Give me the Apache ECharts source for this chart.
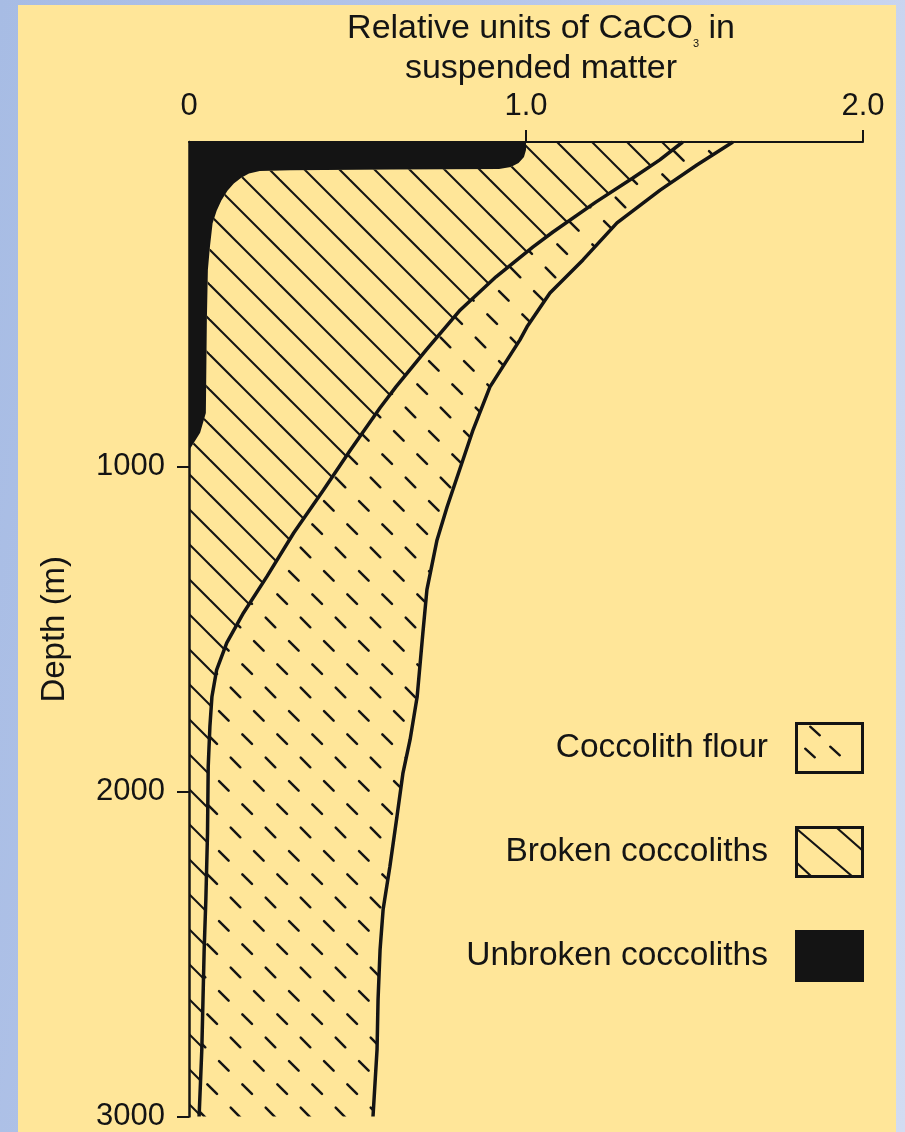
<!DOCTYPE html>
<html><head><meta charset="utf-8">
<script src="https://cdn.jsdelivr.net/npm/echarts@6/dist/echarts.min.js"></script>
<style>
html,body{margin:0;padding:0;width:905px;height:1132px;overflow:hidden;
background:linear-gradient(100deg,#a7bce4 0%,#b6c6ea 45%,#d2dcf2 100%);}
#panel{position:absolute;left:18px;top:5px;width:878px;height:1127px;background:#ffe699;}
#chart{position:absolute;left:0;top:0;width:905px;height:1132px;}
</style></head><body>
<div id="panel"></div><div id="chart"></div>
<script>
// ---- data (relative units of CaCO3 vs depth in m) ----
const xTickValues = [0, 1, 2];
const depthTicks = [1000, 2000, 3000];

// right edge of the unbroken coccoliths (black) region
const unbrokenDepth = [0, 25, 46, 65, 77, 83, 85, 87, 89, 97, 110, 128, 150, 180, 212, 250, 323, 394, 548, 834, 895, 950];
const unbrokenValue = [1.0, 1.0, 0.994, 0.978, 0.955, 0.92, 0.6, 0.3, 0.21, 0.178, 0.155, 0.133, 0.114, 0.096, 0.082, 0.070, 0.062, 0.056, 0.053, 0.050, 0.033, 0];

// unbroken + broken coccoliths (cumulative)
const brokenDepth = [0, 55, 111, 185, 277, 323, 415, 517, 640, 754, 818, 948, 1071, 1203, 1338, 1449, 1542, 1625, 1708, 1800, 1923, 2126, 2332, 2486, 2794, 3000];
const brokenValue = [1.465, 1.397, 1.317, 1.207, 1.080, 1.021, 0.911, 0.805, 0.704, 0.614, 0.567, 0.479, 0.399, 0.311, 0.231, 0.162, 0.112, 0.082, 0.068, 0.062, 0.057, 0.055, 0.050, 0.045, 0.038, 0.030];

// total (unbroken + broken + coccolith flour)
const totalDepth = [0, 71, 148, 249, 363, 465, 569, 609, 754, 886, 978, 1123, 1225, 1378, 1511, 1708, 1840, 1942, 2077, 2231, 2363, 2486, 2640, 2794, 3000];
const totalValue = [1.614, 1.507, 1.398, 1.270, 1.169, 1.071, 1.003, 0.982, 0.893, 0.843, 0.813, 0.766, 0.736, 0.706, 0.694, 0.677, 0.656, 0.635, 0.617, 0.596, 0.576, 0.567, 0.561, 0.558, 0.546];

const legendNames = ['Coccolith flour', 'Broken coccoliths', 'Unbroken coccoliths'];

// ---- build point lists ----
const zip = (vals, deps) => vals.map((v, i) => [v, deps[i]]);
const unbrokenPts = zip(unbrokenValue, unbrokenDepth);
const brokenPts = zip(brokenValue, brokenDepth);
const totalPts = zip(totalValue, totalDepth);
const maxUnbrokenDepth = unbrokenDepth[unbrokenDepth.length - 1];
const maxDepth = depthTicks[depthTicks.length - 1];

const unbrokenPoly = [[0, 0]].concat(unbrokenPts);
const brokenPoly = brokenPts.concat([[0, maxDepth], [0, maxUnbrokenDepth]], unbrokenPts.slice().reverse());
const flourPoly = totalPts.concat(brokenPts.slice().reverse());

// ---- patterns ----
const INK = '#141414';
function hatchCanvas() {
  const c = document.createElement('canvas'); c.width = 70; c.height = 70;
  const g = c.getContext('2d');
  g.strokeStyle = INK; g.lineWidth = 2;
  for (let k = -3; k <= 3; k++) {
    const cc = 30 + 35 * k;
    g.beginPath(); g.moveTo(cc - 10, -10); g.lineTo(cc + 80, 80); g.stroke();
  }
  return c;
}
function flourCanvas() {
  const c = document.createElement('canvas'); c.width = 70; c.height = 70;
  const g = c.getContext('2d');
  g.strokeStyle = INK; g.lineWidth = 2.5; g.lineCap = 'round';
  const step = 70 / 3, h = 4.8;
  for (let i = 0; i < 3; i++) for (let j = 0; j < 2; j++) {
    const cx = (48.83 + step * i + 35 * j) % 70, cy = 15.83 + step * i;
    for (const ox of [-70, 0, 70]) for (const oy of [-70, 0, 70]) {
      g.beginPath(); g.moveTo(cx + ox - h, cy + oy - h); g.lineTo(cx + ox + h, cy + oy + h); g.stroke();
    }
  }
  return c;
}
function swatch(kind) {
  const c = document.createElement('canvas'); c.width = 69; c.height = 52;
  const g = c.getContext('2d');
  g.strokeStyle = INK; g.lineCap = 'round';
  if (kind === 2) { g.fillStyle = INK; g.fillRect(0, 0, 69, 52); }
  else if (kind === 1) {
    g.lineWidth = 2.2;
    [[3, 4, 58, 51], [42, 2, 67, 24], [2, 37, 17, 51]].forEach(s => { g.beginPath(); g.moveTo(s[0], s[1]); g.lineTo(s[2], s[3]); g.stroke(); });
  } else {
    g.lineWidth = 2.4;
    [[20, 9], [15, 31], [40, 29]].forEach(p => { g.beginPath(); g.moveTo(p[0] - 4.8, p[1] - 4.3); g.lineTo(p[0] + 4.8, p[1] + 4.3); g.stroke(); });
  }
  g.lineWidth = 3; g.strokeRect(1.5, 1.5, 66, 49);
  return 'image://' + c.toDataURL();
}
const hatchFill = { image: hatchCanvas(), repeat: 'repeat' };
const flourFill = { image: flourCanvas(), repeat: 'repeat' };

function polygonSeries(name, pts, fill) {
  return {
    type: 'custom', name: name, data: pts, encode: { x: 0, y: 1 }, clip: false, silent: true, z: 1,
    renderItem: function (params, api) {
      if (params.dataIndex !== 0) return null;
      return { type: 'polygon', shape: { points: pts.map(p => api.coord(p)) }, style: { fill: fill, stroke: null, lineWidth: 0 } };
    }
  };
}
const FONT = 'Liberation Sans';

const chart = echarts.init(document.getElementById('chart'), null, { renderer: 'canvas' });
chart.setOption({
  animation: false,
  textStyle: { fontFamily: FONT },
  title: {
    text: 'Relative units of CaCO{sub|3} in\nsuspended matter',
    left: 541, top: 9, padding: 0, textAlign: 'center',
    textStyle: {
      fontFamily: FONT, fontSize: 34, fontWeight: 'normal', color: INK, lineHeight: 40,
      rich: { sub: { fontFamily: FONT, fontSize: 11, color: INK, verticalAlign: 'bottom', lineHeight: 40 } }
    }
  },
  legend: {
    orient: 'vertical', right: 41, top: 722, padding: 0, itemWidth: 69, itemHeight: 52, itemGap: 52,
    align: 'right', selectedMode: false,
    textStyle: { fontFamily: FONT, fontSize: 33.5, color: INK, padding: [0, 22, 0, 0] },
    data: legendNames.map((n, i) => ({ name: n, icon: swatch(i) }))
  },
  grid: { left: 189, top: 142, width: 674, height: 975, containLabel: false },
  xAxis: {
    type: 'value', position: 'top', min: 0, max: 2, interval: 1,
    axisLine: { show: true, lineStyle: { color: INK, width: 2 } },
    axisTick: { show: true, length: 12, customValues: [1, 2], lineStyle: { color: INK, width: 2 } },
    axisLabel: { customValues: xTickValues, margin: 20, fontSize: 31, color: INK, fontFamily: FONT,
      formatter: v => (v === 0 ? '0' : v.toFixed(1)) },
    splitLine: { show: false }
  },
  yAxis: {
    type: 'value', inverse: true, min: 0, max: maxDepth, interval: 1000,
    name: 'Depth (m)', nameLocation: 'middle', nameRotate: 90, nameGap: 118,
    nameTextStyle: { fontFamily: FONT, fontSize: 33, color: INK },
    axisLine: { show: true, lineStyle: { color: INK, width: 2.5 } },
    axisTick: { show: true, length: 12, customValues: depthTicks, lineStyle: { color: INK, width: 2 } },
    axisLabel: { customValues: depthTicks, margin: 24, fontSize: 31, color: INK, fontFamily: FONT,
      formatter: v => String(v) },
    splitLine: { show: false }
  },
  series: [
    polygonSeries('Unbroken coccoliths', unbrokenPoly, INK),
    polygonSeries('Broken coccoliths', brokenPoly, hatchFill),
    polygonSeries('Coccolith flour', flourPoly, flourFill),
    { type: 'line', name: 'broken-boundary', data: brokenPts, symbol: 'none', silent: true, z: 3,
      lineStyle: { color: INK, width: 3.5 } },
    { type: 'line', name: 'total-boundary', data: totalPts, symbol: 'none', silent: true, z: 3,
      lineStyle: { color: INK, width: 3.5 } }
  ]
});
</script>
</body></html>
